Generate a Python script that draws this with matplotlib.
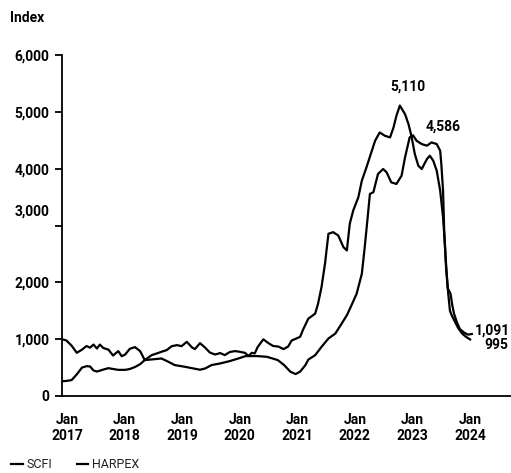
import matplotlib
matplotlib.use("Agg")
import matplotlib.pyplot as plt
from matplotlib.transforms import ScaledTranslation

plt.rcParams['font.family'] = ['Roboto', 'DejaVu Sans']

# decimal years
scfi_t = [2016.91, 2016.99, 2017.08, 2017.17, 2017.26, 2017.34, 2017.40, 2017.46, 2017.52, 2017.57,
          2017.63, 2017.72, 2017.80, 2017.89, 2017.95, 2018.01, 2018.09, 2018.18, 2018.27, 2018.35,
          2018.47, 2018.56, 2018.64, 2018.73, 2018.82, 2018.91, 2018.99, 2019.08, 2019.17, 2019.22,
          2019.31, 2019.40, 2019.48, 2019.57, 2019.66, 2019.74, 2019.83, 2019.92, 2020.00, 2020.09,
          2020.15, 2020.21, 2020.26, 2020.31, 2020.36, 2020.41, 2020.50, 2020.58, 2020.67, 2020.76,
          2020.84, 2020.90, 2020.99, 2021.05, 2021.10, 2021.19, 2021.31, 2021.36, 2021.42, 2021.48,
          2021.54, 2021.62, 2021.71, 2021.80, 2021.86, 2021.91, 2021.97, 2022.06, 2022.12, 2022.20,
          2022.35, 2022.43, 2022.52, 2022.61, 2022.67, 2022.72, 2022.78, 2022.87, 2022.93, 2022.98,
          2023.04, 2023.10, 2023.16, 2023.25, 2023.30, 2023.36, 2023.42, 2023.48, 2023.53, 2023.56,
          2023.59, 2023.62, 2023.65, 2023.68, 2023.74, 2023.79, 2023.86, 2023.93, 2024.00]
scfi_v = [1000, 977, 886, 760, 815, 880, 850, 905, 835, 905,
          845, 815, 712, 790, 700, 730, 830, 860, 790, 632,
          719, 749, 778, 807, 877, 895, 877, 953, 855, 825,
          930, 850, 765, 730, 755, 720, 775, 790, 778, 760,
          705, 760, 749, 860, 930, 997, 928, 880, 870, 825,
          870, 975, 1015, 1043, 1170, 1360, 1450, 1626, 1918, 2327,
          2854, 2883, 2825, 2620, 2561, 3029, 3263, 3500, 3789, 4023,
          4491, 4637, 4579, 4550, 4725, 4930, 5110, 4959, 4784, 4579,
          4257, 4053, 3994, 4169, 4228, 4140, 3965, 3614, 3146, 2700,
          2200, 1800, 1500, 1420, 1300, 1200, 1100, 1040, 995]

harpex_t = [2016.91, 2016.99, 2017.08, 2017.17, 2017.26, 2017.34, 2017.40, 2017.46, 2017.52, 2017.63,
            2017.72, 2017.80, 2017.89, 2018.01, 2018.09, 2018.18, 2018.27, 2018.35, 2018.47, 2018.64,
            2018.76, 2018.87, 2019.04, 2019.31, 2019.40, 2019.51, 2019.66, 2019.83, 2019.99, 2020.10,
            2020.30, 2020.47, 2020.66, 2020.77, 2020.88, 2020.97, 2021.05, 2021.14, 2021.19, 2021.31,
            2021.42, 2021.54, 2021.66, 2021.77, 2021.86, 2021.94, 2022.03, 2022.12, 2022.17, 2022.21,
            2022.26, 2022.32, 2022.40, 2022.49, 2022.55, 2022.63, 2022.72, 2022.81, 2022.87, 2022.95,
            2023.01, 2023.07, 2023.16, 2023.25, 2023.33, 2023.42, 2023.48, 2023.50, 2023.53, 2023.55,
            2023.58, 2023.61, 2023.66, 2023.69, 2023.72, 2023.77, 2023.82, 2023.89, 2023.96, 2024.03]
harpex_v = [260, 265, 280, 380, 500, 525, 520, 450, 430, 465,
            490, 475, 460, 460, 475, 510, 560, 632, 643, 660,
            602, 544, 515, 462, 485, 544, 573, 615, 665, 702,
            702, 690, 632, 544, 427, 386, 430, 544, 640, 719,
            865, 1012, 1099, 1275, 1421, 1596, 1801, 2152, 2620, 3029,
            3556, 3585, 3906, 3994, 3936, 3760, 3731, 3877, 4199, 4550,
            4586, 4491, 4433, 4404, 4462, 4433, 4316, 4082, 3614, 2912,
            2300, 1900, 1800, 1600, 1450, 1300, 1180, 1120, 1080, 1091]

years = [2017, 2018, 2019, 2020, 2021, 2022, 2023, 2024]
x_labels = ['Jan\n' + str(y) for y in years]
y_ticks = [0, 1000, 2000, 3000, 4000, 5000, 6000]
y_labels = ['0', '1,000', '2,000', '3,000', '4,000', '5,000', '6,000']

fig = plt.figure(figsize=(5.11, 4.73), dpi=100)
ax = fig.add_axes([0.1213, 0.1628, 0.8787, 0.7209])

ax.plot(scfi_t, scfi_v, color='black', lw=1.6, label='SCFI')
ax.plot(harpex_t, harpex_v, color='black', lw=1.6, label='HARPEX')

ax.set_xlim(2016.913, 2024.71)
ax.set_ylim(0, 6000)
ax.set_xticks(years)
ax.set_xticklabels(x_labels, fontsize=10, fontweight='bold', linespacing=1.25,
                   multialignment='center')
ax.set_yticks(y_ticks)
ax.set_yticklabels(y_labels, fontsize=10, fontweight='bold')
ax.tick_params(axis='x', length=0, pad=12)
ax.tick_params(axis='y', length=5, width=1.3, pad=4, direction='out')

# the 3,000 label sits above its tick in the original
lbl = ax.get_yticklabels()[3]
lbl.set_transform(lbl.get_transform() + ScaledTranslation(0, 0.15, fig.dpi_scale_trans))

for s in ['top', 'right']:
    ax.spines[s].set_visible(False)
ax.spines['left'].set_linewidth(1.3)
ax.spines['bottom'].set_linewidth(1.3)

ax.text(2022.92, 5440, '5,110', ha='center', va='center', fontsize=10, fontweight='bold')
ax.text(2023.53, 4740, '4,586', ha='center', va='center', fontsize=10, fontweight='bold')
ax.text(2024.70, 1160, '1,091', ha='right', va='center', fontsize=10, fontweight='bold')
ax.text(2024.67, 890, '995', ha='right', va='center', fontsize=10, fontweight='bold')

fig.text(10 / 511, 1 - 18 / 473, 'Index', ha='left', va='center', fontsize=10, fontweight='bold')

fig.legend(loc='lower left', bbox_to_anchor=(0.0, -0.02), ncol=2, frameon=False,
           handlelength=0.9, handletextpad=0.3, columnspacing=2.0,
           prop={'size': 9}, labelcolor='#222222')

fig.savefig('out.png', dpi=100)
